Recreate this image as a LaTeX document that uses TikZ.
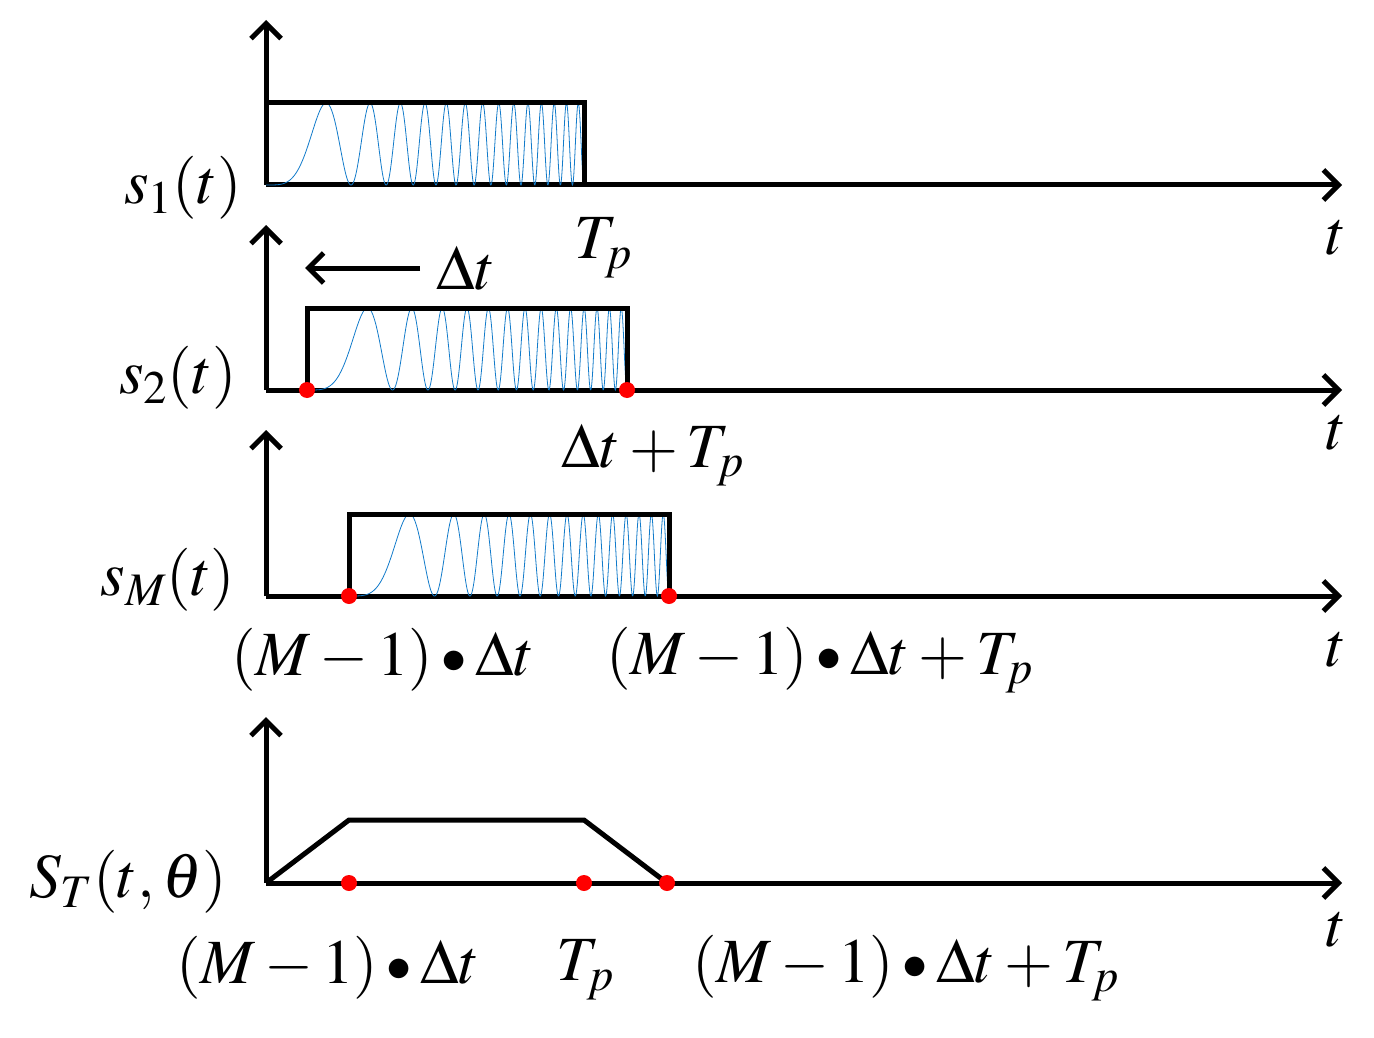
\documentclass[tikz,border=0pt]{standalone}
\usepackage{mathptmx}
\usetikzlibrary{arrows.meta}
\begin{document}
\begin{tikzpicture}[x=1pt,y=-1pt,
  ax/.style={line width=5pt,-{Straight Barb[length=15pt,width=30pt,line width=5pt]}},
  box/.style={line width=5pt},
  dot/.style={circle,fill=red,inner sep=0pt,minimum size=16pt},
  chirp/.style={color=cyan!60!blue,line width=0.8pt},
  lab/.style={font=\fontsize{63}{63}\selectfont,inner sep=0pt}]
\useasboundingbox (0,0) rectangle (1374,1038);
\newcommand\mychirp[4]{\draw[chirp] plot[domain=0:1,samples=700] ({#1+(#2-#1)*\x},{#3-(#3-#4)*(1-cos(5040*\x*\x))/2});}
\newcommand\bl{\mathbin{\raisebox{0.1ex}{\scalebox{0.8}{$\bullet$}}}}
% panel 1
\coordinate (o1) at (266,185); \coordinate (y1) at (266,20); \coordinate (x1) at (1342,185);
\draw[ax] (o1) -- (y1); \draw[ax] (o1) -- (x1);
\mychirp{266}{584}{185}{103}
\draw[box] (266,103) -- (584,103) -- (584,185);
\node[lab] at (183,188) {$s_1(t)$};
\node[lab] at (603,248) {$T_p$};
\node[lab] at (1336,238) {$t$};
% panel 2
\coordinate (o2) at (266,390); \coordinate (y2) at (266,225); \coordinate (x2) at (1342,390);
\draw[ax] (o2) -- (y2); \draw[ax] (o2) -- (x2);
\mychirp{307}{627}{390}{308}
\draw[box] (307,390) -- (307,308) -- (627,308) -- (627,390);
\coordinate (d1) at (420,268); \coordinate (d2) at (305,268);
\draw[ax] (d1) -- (d2);
\node[lab] at (466,268) {$\Delta t$};
\node[dot] at (307,390) {}; \node[dot] at (627,390) {};
\node[lab] at (178,378) {$s_2(t)$};
\node[lab] at (653,455) {$\Delta t+T_p$};
\node[lab] at (1336,433) {$t$};
% panel 3
\coordinate (o3) at (266,596); \coordinate (y3) at (266,430); \coordinate (x3) at (1342,596);
\draw[ax] (o3) -- (y3); \draw[ax] (o3) -- (x3);
\mychirp{349}{669}{596}{514}
\draw[box] (349,596) -- (349,514) -- (669,514) -- (669,596);
\node[dot] at (349,596) {}; \node[dot] at (669,596) {};
\node[lab] at (168,580) {$s_M(t)$};
\node[lab] at (383,660) {$(M-1)\bl\Delta t$};
\node[lab] at (820,660) {$(M-1)\bl\Delta t+T_p$};
\node[lab] at (1336,650) {$t$};
% panel 4
\coordinate (o4) at (266,883); \coordinate (y4) at (266,717); \coordinate (x4) at (1342,883);
\draw[ax] (o4) -- (y4); \draw[ax] (o4) -- (x4);
\draw[box] (266,883) -- (349,820) -- (584,820) -- (667,883);
\node[dot] at (349,883) {}; \node[dot] at (584,883) {}; \node[dot] at (667,883) {};
\node[lab] at (128,882) {$S_T(t,\theta)$};
\node[lab] at (328,968) {$(M-1)\bl\Delta t$};
\node[lab] at (585,970) {$T_p$};
\node[lab] at (906,968) {$(M-1)\bl\Delta t+T_p$};
\node[lab] at (1336,930) {$t$};
\end{tikzpicture}
\end{document}
